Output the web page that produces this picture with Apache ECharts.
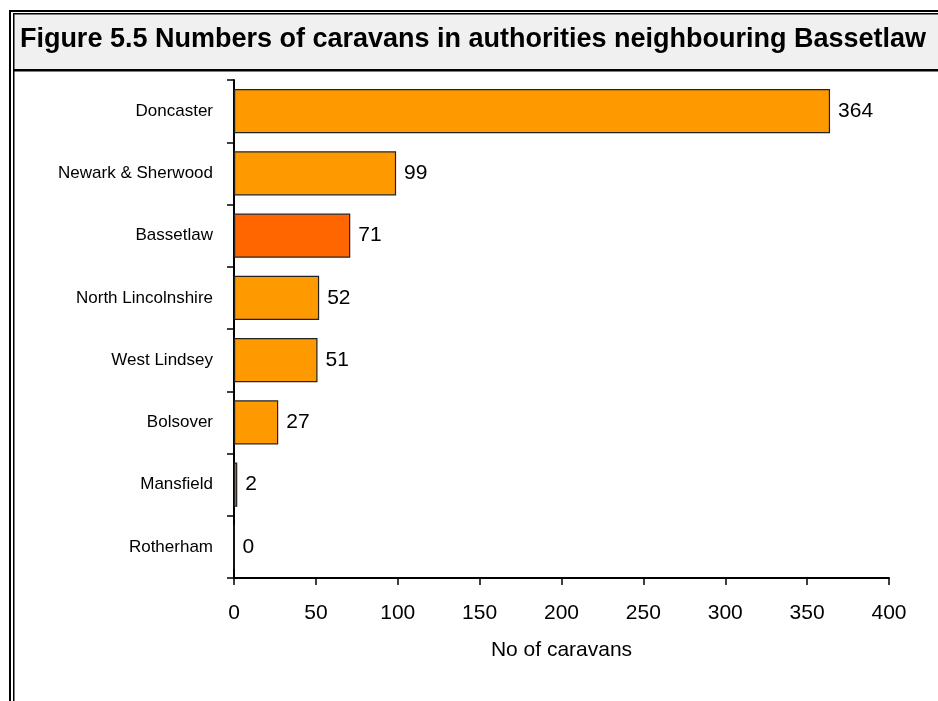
<!DOCTYPE html>
<html>
<head>
<meta charset="utf-8">
<script src="https://cdn.jsdelivr.net/npm/echarts@6/dist/echarts.min.js"></script>
<style>
html,body{margin:0;padding:0;background:#fff;}
#c{width:938px;height:701px;}
</style>
</head>
<body>
<div id="c"></div>
<script>
const titleText = 'Figure 5.5 Numbers of caravans in authorities neighbouring Bassetlaw';
const categories = ['Doncaster', 'Newark & Sherwood', 'Bassetlaw', 'North Lincolnshire', 'West Lindsey', 'Bolsover', 'Mansfield', 'Rotherham'];
const values = [364, 99, 71, 52, 51, 27, 2, 0];
const highlighted = ['Bassetlaw', 'Mansfield'];
const xTicks = [0, 50, 100, 150, 200, 250, 300, 350, 400];
const xAxisName = 'No of caravans';

const FONT = '"Liberation Sans", Arial, sans-serif';
const chart = echarts.init(document.getElementById('c'), null, {renderer: 'canvas'});

const barData = categories.map((c, i) => ({
  value: values[i],
  itemStyle: { color: highlighted.includes(c) ? '#FF6600' : '#FF9900' }
}));

chart.setOption({
  animation: false,
  backgroundColor: '#ffffff',
  textStyle: { fontFamily: FONT },
  graphic: [
    { type: 'rect', silent: true, z: 0, shape: { x: 14, y: 14, width: 930, height: 56 }, style: { fill: '#f0f0f0' } },
    { type: 'rect', silent: true, z: 1, shape: { x: 9, y: 10, width: 940, height: 2 }, style: { fill: '#000' } },
    { type: 'rect', silent: true, z: 1, shape: { x: 9, y: 10, width: 2, height: 700 }, style: { fill: '#000' } },
    { type: 'rect', silent: true, z: 1, shape: { x: 13, y: 13, width: 930, height: 1.5 }, style: { fill: '#000' } },
    { type: 'rect', silent: true, z: 1, shape: { x: 13, y: 13, width: 1.5, height: 700 }, style: { fill: '#000' } },
    { type: 'rect', silent: true, z: 1, shape: { x: 13, y: 69, width: 930, height: 2.5 }, style: { fill: '#000' } },
    { type: 'text', silent: true, z: 2, x: 473, y: 40,
      style: { text: titleText, font: 'bold 27px ' + FONT, fill: '#000', align: 'center', verticalAlign: 'middle' } }
  ],
  grid: { left: 234, right: 49, top: 80, bottom: 123, containLabel: false },
  xAxis: {
    type: 'value',
    min: 0, max: 400, interval: 50,
    name: xAxisName,
    nameLocation: 'middle',
    nameGap: 62,
    nameTextStyle: { fontSize: 21, color: '#000', fontFamily: FONT },
    axisLine: { show: true, lineStyle: { color: '#000', width: 2 } },
    axisTick: { show: true, length: 7, lineStyle: { color: '#000', width: 1.5 } },
    axisLabel: { fontSize: 21, color: '#000', margin: 25, fontFamily: FONT,
      formatter: v => xTicks.includes(v) ? String(v) : '' },
    splitLine: { show: false }
  },
  yAxis: {
    type: 'category',
    data: categories,
    inverse: true,
    axisLine: { show: true, lineStyle: { color: '#000', width: 2 } },
    axisTick: { show: true, length: 7, lineStyle: { color: '#000', width: 1.5 } },
    axisLabel: { fontSize: 17, color: '#000', margin: 21, fontFamily: FONT },
    splitLine: { show: false }
  },
  series: [{
    type: 'bar',
    data: barData,
    barCategoryGap: '29%',
    itemStyle: { borderColor: '#222', borderWidth: 1.2 },
    label: { show: true, position: 'right', distance: 8, fontSize: 21, color: '#000', fontFamily: FONT }
  }]
});
</script>
</body>
</html>
